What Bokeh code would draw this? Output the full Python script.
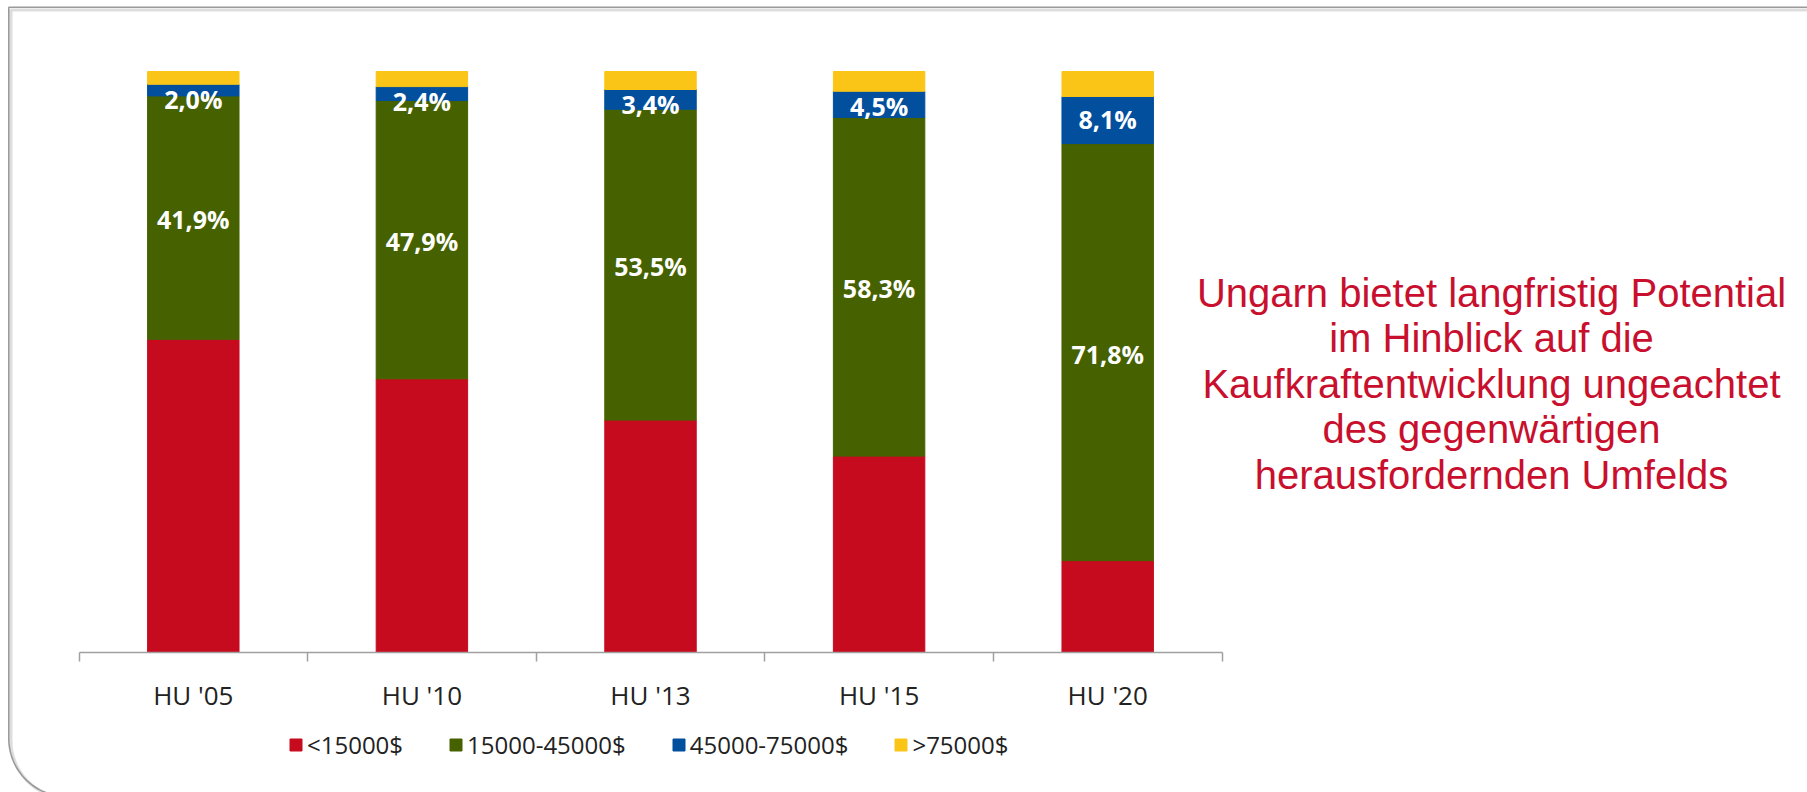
import numpy as np
from bokeh.plotting import figure
from bokeh.models import (ColumnDataSource, Range1d, LinearAxis, FixedTicker,
                          Legend, LegendItem)
from bokeh.core.properties import value
from bokeh.embed import file_html
from bokeh.resources import INLINE

# ---------------- data ----------------
categories = ["HU '05", "HU '10", "HU '13", "HU '15", "HU '20"]
series_names = ["<15000$", "15000-45000$", "45000-75000$", ">75000$"]
share_low = [53.9, 47.1, 40.0, 33.8, 15.8]      # <15000$
share_mid = [41.9, 47.9, 53.5, 58.3, 71.8]      # 15000-45000$
share_upper = [2.0, 2.4, 3.4, 4.5, 8.1]         # 45000-75000$
share_top = [2.2, 2.6, 3.1, 3.4, 4.3]           # >75000$
note_lines = [
    "Ungarn bietet langfristig Potential",
    "im Hinblick auf die",
    "Kaufkraftentwicklung ungeachtet",
    "des gegenwärtigen",
    "herausfordernden Umfelds",
]

# ---------------- styling / layout ----------------
colors = ["#C70B1F", "#466200", "#014F9D", "#FAC517"]
W, H = 1807, 792
BASE_Y = 652          # canvas px of the 0 % line
PX_PER_PCT = 5.81
X0 = 78.5             # canvas px of axis start
PX_PER_CAT = 228.6

p = figure(width=W, height=H, output_backend="svg", toolbar_location=None,
           x_range=Range1d(-X0 / PX_PER_CAT, (W - X0) / PX_PER_CAT),
           y_range=Range1d(-(H - BASE_Y) / PX_PER_PCT, BASE_Y / PX_PER_PCT),
           x_axis_type=None, y_axis_type=None,
           min_border=0, min_border_left=0, min_border_right=0,
           min_border_top=0, min_border_bottom=0)
p.outline_line_color = None
p.background_fill_color = "white"
p.border_fill_color = "white"
p.extra_x_ranges = {"px": Range1d(0, W)}
p.extra_y_ranges = {"px": Range1d(0, H)}   # y measured from the bottom


def frame_path(left, top, bottom, radius, n=40):
    """Decorative frame: top edge, left edge, rounded bottom-left corner (screen px, y down)."""
    ang = np.linspace(np.pi, np.pi / 2, n)
    cx, cy = left + radius, bottom - radius
    arc_x = cx + radius * np.cos(ang)
    arc_y = cy + radius * np.sin(ang)
    fx = [W + 20, left] + list(arc_x)
    fy = [top, top] + list(arc_y)
    return fx, [H - y for y in fy]


sx, sy = frame_path(10.5, 9.5, 798, 58)
p.line(sx, sy, x_range_name="px", y_range_name="px",
       line_color="#D4D4D4", line_width=3, line_alpha=0.8)
fx, fy = frame_path(8.3, 6.7, 796, 58)
p.line(fx, fy, x_range_name="px", y_range_name="px",
       line_color="#9A9A9A", line_width=1.6)

xs = [i + 0.5 for i in range(len(categories))]
src = ColumnDataSource(dict(x=xs, low=share_low, mid=share_mid,
                            upper=share_upper, top=share_top))
rs = p.vbar_stack(["low", "mid", "upper", "top"], x="x", width=0.4,
                  color=colors, source=src)

# value labels
fmt = lambda v: f"{v:.1f}".replace(".", ",") + "%"
mid_y = [l + m / 2 for l, m in zip(share_low, share_mid)]
up_y = [min(l + m + u / 2, l + m + u - 2.7)
        for l, m, u in zip(share_low, share_mid, share_upper)]
label_style = dict(text_color="white", text_font=value("Open Sans"),
                   text_font_style="bold", text_font_size="25px",
                   text_align="center", text_baseline="middle")
p.text(x=xs, y=mid_y, text=[fmt(v) for v in share_mid], y_offset=1.5, **label_style)
p.text(x=xs, y=up_y, text=[fmt(v) for v in share_upper], y_offset=-1, **label_style)

# x axis at 0 %
ax = LinearAxis(fixed_location=0,
                ticker=FixedTicker(ticks=xs, minor_ticks=list(range(len(categories) + 1))),
                bounds=(0, len(categories)))
ax.major_label_overrides = {x: c for x, c in zip(xs, categories)}
ax.axis_line_color = "#A0A0A0"
ax.axis_line_width = 1.5
ax.major_tick_out = 0
ax.major_tick_in = 0
ax.minor_tick_out = 9
ax.minor_tick_in = 0
ax.minor_tick_line_color = "#A0A0A0"
ax.minor_tick_line_width = 1.5
ax.major_label_standoff = 15
ax.major_label_text_font = "Open Sans"
ax.major_label_text_font_size = "26px"
ax.major_label_text_color = "#222222"
p.add_layout(ax, "below")

# legend
legend = Legend(items=[LegendItem(label=n, renderers=[r]) for n, r in zip(series_names, rs)],
                location=(288, 31), orientation="horizontal",
                glyph_width=15, glyph_height=15, label_standoff=4, spacing=45,
                padding=0, margin=0, border_line_color=None,
                background_fill_alpha=0,
                label_text_font="Open Sans", label_text_font_size="24px",
                label_text_color="#222222")
p.add_layout(legend)

# note text on the right
NOTE_X, NOTE_TOP, NOTE_GAP = 1491, 292, 45.5
note_y = [H - (NOTE_TOP + i * NOTE_GAP) for i in range(len(note_lines))]
p.text(x=[NOTE_X] * len(note_lines), y=note_y, text=note_lines,
       x_range_name="px", y_range_name="px",
       text_align="center", text_baseline="middle",
       text_font=value("Liberation Sans"), text_font_size="40px",
       text_color="#C8102E")

open("out.html", "w").write(file_html(p, INLINE))
